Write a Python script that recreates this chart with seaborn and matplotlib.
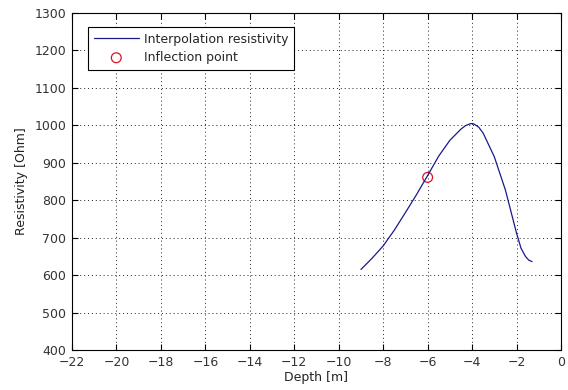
import matplotlib
matplotlib.use("Agg")
import matplotlib.pyplot as plt
import seaborn as sns
import pandas as pd

depth = [-9.0, -8.5, -8.0, -7.5, -7.0, -6.5, -6.0, -5.5, -5.0, -4.5, -4.3, -4.1, -4.0,
         -3.9, -3.7, -3.5, -3.0, -2.5, -2.0, -1.8, -1.6, -1.45, -1.3]
resistivity = [615, 645, 678, 720, 767, 815, 866, 918, 960, 990, 999, 1004, 1005,
               1003, 995, 979, 916, 827, 712, 672, 650, 640, 636]
inflection_depth = [-6.0]
inflection_res = [861]

sns.set_theme(style="white")
plt.rcParams['font.family'] = ['DejaVu Sans']

df = pd.DataFrame({"Depth": depth, "Resistivity": resistivity})
dfi = pd.DataFrame({"Depth": inflection_depth, "Resistivity": inflection_res})

fig = plt.figure(figsize=(5.68, 3.90), dpi=100)
ax = fig.add_axes([72/568, 40/390, (561-72)/568, (350-13)/390])

sns.lineplot(data=df, x="Depth", y="Resistivity", ax=ax, color="#1A1A8C",
             linewidth=0.9, label="Interpolation resistivity")
sns.scatterplot(data=dfi, x="Depth", y="Resistivity", ax=ax, marker="o",
                s=50, facecolor="none", edgecolor="#E0102A", linewidth=0.9,
                label="Inflection point")

ax.set_xlim(-22, 0)
ax.set_ylim(400, 1300)
ax.set_xticks(range(-22, 1, 2))
ax.set_yticks(range(400, 1301, 100))
ax.grid(True, color="#222222", linestyle=(0, (1, 3)), linewidth=0.7)
for s in ax.spines.values():
    s.set_color("black")
    s.set_linewidth(0.8)
ax.tick_params(direction="in", length=4, width=0.8, colors="black", labelsize=9,
               top=True, right=True, bottom=True, left=True)
ax.tick_params(axis="x", labeltop=False, pad=4)
ax.tick_params(axis="y", labelright=False, pad=4)
for lab in ax.get_xticklabels() + ax.get_yticklabels():
    lab.set_color("#333333")
ax.set_xlabel("Depth [m]", fontsize=9, labelpad=2, color="#222222")
ax.set_ylabel("Resistivity [Ohm]", fontsize=9, labelpad=5, color="#222222")

leg = ax.legend(loc="upper left", bbox_to_anchor=(0.033, 0.958), borderaxespad=0,
                fontsize=9, frameon=True, fancybox=False, framealpha=1,
                edgecolor="black", handlelength=3.6, handletextpad=0.4,
                borderpad=0.45, labelspacing=0.42)
leg.get_frame().set_linewidth(0.8)

fig.savefig("out.png", dpi=100, facecolor="white")
